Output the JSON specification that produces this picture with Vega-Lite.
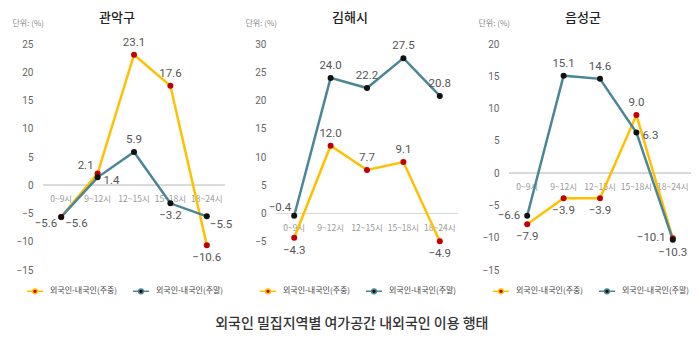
{
  "$schema": "https://vega.github.io/schema/vega-lite/v6.json",
  "background": "white",
  "padding": {"left": 12, "top": 12, "right": 0, "bottom": 0},
  "bounds": "flush",
  "spacing": 51,
  "config": {
    "font": "Noto Sans CJK KR",
    "view": {"stroke": null},
    "axis": {"labelFont": "Roboto", "titleFont": "Noto Sans CJK KR", "labelOverlap": false},
    "axisY": {"labelOverlap": false},
    "axisQuantitative": {"labelOverlap": false},
    "legend": {"labelFont": "Noto Sans CJK KR"},
    "text": {"font": "Roboto", "fontSize": 11.5, "color": "#555555"}
  },
  "title": {"text": "외국인 밀집지역별 여가공간 내외국인 이용 행태", "orient": "bottom", "anchor": "middle", "fontSize": 14, "fontWeight": 500, "color": "#333333", "offset": 20},
  "datasets": {
    "d": [
      {"region": "관악구", "time": "0~9시", "series": "외국인-내국인(주중)", "value": -5.6},
      {"region": "관악구", "time": "9~12시", "series": "외국인-내국인(주중)", "value": 2.1},
      {"region": "관악구", "time": "12~15시", "series": "외국인-내국인(주중)", "value": 23.1},
      {"region": "관악구", "time": "15~18시", "series": "외국인-내국인(주중)", "value": 17.6},
      {"region": "관악구", "time": "18~24시", "series": "외국인-내국인(주중)", "value": -10.6},
      {"region": "관악구", "time": "0~9시", "series": "외국인-내국인(주말)", "value": -5.6},
      {"region": "관악구", "time": "9~12시", "series": "외국인-내국인(주말)", "value": 1.4},
      {"region": "관악구", "time": "12~15시", "series": "외국인-내국인(주말)", "value": 5.9},
      {"region": "관악구", "time": "15~18시", "series": "외국인-내국인(주말)", "value": -3.2},
      {"region": "관악구", "time": "18~24시", "series": "외국인-내국인(주말)", "value": -5.5},
      {"region": "김해시", "time": "0~9시", "series": "외국인-내국인(주중)", "value": -4.3},
      {"region": "김해시", "time": "9~12시", "series": "외국인-내국인(주중)", "value": 12.0},
      {"region": "김해시", "time": "12~15시", "series": "외국인-내국인(주중)", "value": 7.7},
      {"region": "김해시", "time": "15~18시", "series": "외국인-내국인(주중)", "value": 9.1},
      {"region": "김해시", "time": "18~24시", "series": "외국인-내국인(주중)", "value": -4.9},
      {"region": "김해시", "time": "0~9시", "series": "외국인-내국인(주말)", "value": -0.4},
      {"region": "김해시", "time": "9~12시", "series": "외국인-내국인(주말)", "value": 24.0},
      {"region": "김해시", "time": "12~15시", "series": "외국인-내국인(주말)", "value": 22.2},
      {"region": "김해시", "time": "15~18시", "series": "외국인-내국인(주말)", "value": 27.5},
      {"region": "김해시", "time": "18~24시", "series": "외국인-내국인(주말)", "value": 20.8},
      {"region": "음성군", "time": "0~9시", "series": "외국인-내국인(주중)", "value": -7.9},
      {"region": "음성군", "time": "9~12시", "series": "외국인-내국인(주중)", "value": -3.9},
      {"region": "음성군", "time": "12~15시", "series": "외국인-내국인(주중)", "value": -3.9},
      {"region": "음성군", "time": "15~18시", "series": "외국인-내국인(주중)", "value": 9.0},
      {"region": "음성군", "time": "18~24시", "series": "외국인-내국인(주중)", "value": -10.1},
      {"region": "음성군", "time": "0~9시", "series": "외국인-내국인(주말)", "value": -6.6},
      {"region": "음성군", "time": "9~12시", "series": "외국인-내국인(주말)", "value": 15.1},
      {"region": "음성군", "time": "12~15시", "series": "외국인-내국인(주말)", "value": 14.6},
      {"region": "음성군", "time": "15~18시", "series": "외국인-내국인(주말)", "value": 6.3},
      {"region": "음성군", "time": "18~24시", "series": "외국인-내국인(주말)", "value": -10.3}
    ]
  },
  "resolve": {"legend": {"color": "independent"}, "scale": {"y": "independent"}},
  "hconcat": [
    {
      "title": {"text": "관악구", "dx": -17, "fontSize": 13, "fontWeight": 500, "color": "#222222", "offset": -6},
      "width": 182, "height": 226,
      "data": {"name": "d"},
      "transform": [
        {"filter": "datum.region == '관악구'"},
        {"window": [{"op": "row_number", "as": "rk"}], "groupby": ["time"], "sort": [{"field": "value", "order": "descending"}, {"field": "series", "order": "descending"}]},
        {"joinaggregate": [{"op": "max", "field": "value", "as": "vmax"}, {"op": "min", "field": "value", "as": "vmin"}], "groupby": ["time"]}
      ],
      "encoding": {
        "x": {"field": "time", "type": "ordinal", "sort": ["0~9시", "9~12시", "12~15시", "15~18시", "18~24시"], "scale": {"type": "point", "padding": 0.5}, "axis": null},
        "y": {"field": "value", "type": "quantitative", "scale": {"domain": [-15, 25], "nice": false}, "axis": {"values": [-15, -10, -5, 0, 5, 10, 15, 20, 25], "labelOverlap": false, "domain": false, "ticks": false, "grid": false, "labelFontSize": 10, "labelColor": "#666666", "labelPadding": 10, "title": "단위: (%)", "titleAngle": 0, "titleAlign": "left", "titleBaseline": "middle", "titleX": -31, "titleY": -21, "titleFontSize": 8, "titleFontWeight": "normal", "titleColor": "#888888"}}
      },
      "layer": [
        {"mark": {"type": "rule", "color": "#d9d9d9", "strokeWidth": 1.2}, "encoding": {"y": {"datum": 0, "type": "quantitative"}, "x": null}},
        {"transform": [{"filter": "datum.series == '외국인-내국인(주중)'"}], "mark": {"type": "text", "dy": 14, "fontSize": 8.5, "color": "#999999", "font": "Noto Sans CJK KR"}, "encoding": {"y": {"datum": 0, "type": "quantitative"}, "text": {"field": "time"}}},
        {"mark": {"type": "line", "strokeWidth": 2.5}, "encoding": {
          "color": {"field": "series", "type": "nominal", "scale": {"domain": ["외국인-내국인(주중)", "외국인-내국인(주말)"], "range": ["#FFC000", "#4A8696"]},
            "legend": {"orient": "none", "legendX": -17, "legendY": 238, "direction": "horizontal", "title": null, "symbolType": "M-1,0L-0.3,0M0.3,0L1,0M-0.3,0A0.3,0.3,0,1,0,0.3,0A0.3,0.3,0,1,0,-0.3,0Z", "symbolSize": 256, "symbolStrokeWidth": 1.5, "labelFontSize": 8, "labelColor": "#444444", "labelOffset": 6, "columnPadding": 12,
              "encode": {"symbols": {"update": {"fill": {"signal": "datum.value == '외국인-내국인(주중)' ? '#C00000' : '#111111'"}, "opacity": {"value": 1}}}}}}
        }},
        {"mark": {"type": "point", "filled": true, "size": 36, "opacity": 1, "strokeWidth": 0}, "encoding": {
          "fill": {"field": "series", "type": "nominal", "scale": {"domain": ["외국인-내국인(주중)", "외국인-내국인(주말)"], "range": ["#C00000", "#111111"]}, "legend": null}
        }},
        {"mark": {"type": "text",
          "dx": {"expr": "(datum.vmax - datum.vmin >= 3) ? (datum.rk == 1 ? (datum.value < -2 ? 3 : datum.value < 0 ? -3 : 0) : 0) : (datum.vmax == datum.vmin) ? (datum.rk == 1 ? -4 : 4) : (datum.rk == 1 ? (datum.value >= 5 ? 0 : datum.value >= 0 ? -4 : -7) : (datum.value >= 0 ? 6 : 0))"},
          "dy": {"expr": "(datum.vmax - datum.vmin >= 3) ? (datum.rk == 1 ? (datum.value < -2 ? 9 : datum.value < 0 ? -8 : -12) : (datum.value > 5 ? -12 : 13)) : (datum.vmax == datum.vmin) ? 7 : (datum.rk == 1 ? (datum.value >= 5 ? -12 : datum.value >= 0 ? -7 : 0) : (datum.value >= 0 ? 4 : 13))"},
          "align": {"expr": "(datum.vmax - datum.vmin >= 3) ? (datum.rk == 1 ? (datum.value < -2 ? 'left' : datum.value < 0 ? 'right' : 'center') : 'center') : (datum.vmax == datum.vmin) ? (datum.rk == 1 ? 'right' : 'left') : (datum.rk == 1 ? (datum.value >= 5 ? 'center' : 'right') : (datum.value >= 0 ? 'left' : 'center'))"}},
          "encoding": {"text": {"field": "value", "format": ".1f"}}}
      ]
    },
    {
      "title": {"text": "김해시", "dx": -17, "fontSize": 13, "fontWeight": 500, "color": "#222222", "offset": -6},
      "width": 182, "height": 226,
      "data": {"name": "d"},
      "transform": [
        {"filter": "datum.region == '김해시'"},
        {"window": [{"op": "row_number", "as": "rk"}], "groupby": ["time"], "sort": [{"field": "value", "order": "descending"}, {"field": "series", "order": "descending"}]},
        {"joinaggregate": [{"op": "max", "field": "value", "as": "vmax"}, {"op": "min", "field": "value", "as": "vmin"}], "groupby": ["time"]}
      ],
      "encoding": {
        "x": {"field": "time", "type": "ordinal", "sort": ["0~9시", "9~12시", "12~15시", "15~18시", "18~24시"], "scale": {"type": "point", "padding": 0.5}, "axis": null},
        "y": {"field": "value", "type": "quantitative", "scale": {"domain": [-10, 30], "nice": false}, "axis": {"values": [-5, 0, 5, 10, 15, 20, 25, 30], "labelOverlap": false, "domain": false, "ticks": false, "grid": false, "labelFontSize": 10, "labelColor": "#666666", "labelPadding": 10, "title": "단위: (%)", "titleAngle": 0, "titleAlign": "left", "titleBaseline": "middle", "titleX": -31, "titleY": -21, "titleFontSize": 8, "titleFontWeight": "normal", "titleColor": "#888888"}}
      },
      "layer": [
        {"mark": {"type": "rule", "color": "#d9d9d9", "strokeWidth": 1.2}, "encoding": {"y": {"datum": 0, "type": "quantitative"}, "x": null}},
        {"transform": [{"filter": "datum.series == '외국인-내국인(주중)'"}], "mark": {"type": "text", "dy": 14, "fontSize": 8.5, "color": "#999999", "font": "Noto Sans CJK KR"}, "encoding": {"y": {"datum": 0, "type": "quantitative"}, "text": {"field": "time"}}},
        {"mark": {"type": "line", "strokeWidth": 2.5}, "encoding": {
          "color": {"field": "series", "type": "nominal", "scale": {"domain": ["외국인-내국인(주중)", "외국인-내국인(주말)"], "range": ["#FFC000", "#4A8696"]},
            "legend": {"orient": "none", "legendX": -17, "legendY": 238, "direction": "horizontal", "title": null, "symbolType": "M-1,0L-0.3,0M0.3,0L1,0M-0.3,0A0.3,0.3,0,1,0,0.3,0A0.3,0.3,0,1,0,-0.3,0Z", "symbolSize": 256, "symbolStrokeWidth": 1.5, "labelFontSize": 8, "labelColor": "#444444", "labelOffset": 6, "columnPadding": 12,
              "encode": {"symbols": {"update": {"fill": {"signal": "datum.value == '외국인-내국인(주중)' ? '#C00000' : '#111111'"}, "opacity": {"value": 1}}}}}}
        }},
        {"mark": {"type": "point", "filled": true, "size": 36, "opacity": 1, "strokeWidth": 0}, "encoding": {
          "fill": {"field": "series", "type": "nominal", "scale": {"domain": ["외국인-내국인(주중)", "외국인-내국인(주말)"], "range": ["#C00000", "#111111"]}, "legend": null}
        }},
        {"mark": {"type": "text",
          "dx": {"expr": "(datum.vmax - datum.vmin >= 3) ? (datum.rk == 1 ? (datum.value < -2 ? 3 : datum.value < 0 ? -3 : 0) : 0) : (datum.vmax == datum.vmin) ? (datum.rk == 1 ? -4 : 4) : (datum.rk == 1 ? (datum.value >= 5 ? 0 : datum.value >= 0 ? -4 : -7) : (datum.value >= 0 ? 6 : 0))"},
          "dy": {"expr": "(datum.vmax - datum.vmin >= 3) ? (datum.rk == 1 ? (datum.value < -2 ? 9 : datum.value < 0 ? -8 : -12) : (datum.value > 5 ? -12 : 13)) : (datum.vmax == datum.vmin) ? 7 : (datum.rk == 1 ? (datum.value >= 5 ? -12 : datum.value >= 0 ? -7 : 0) : (datum.value >= 0 ? 4 : 13))"},
          "align": {"expr": "(datum.vmax - datum.vmin >= 3) ? (datum.rk == 1 ? (datum.value < -2 ? 'left' : datum.value < 0 ? 'right' : 'center') : 'center') : (datum.vmax == datum.vmin) ? (datum.rk == 1 ? 'right' : 'left') : (datum.rk == 1 ? (datum.value >= 5 ? 'center' : 'right') : (datum.value >= 0 ? 'left' : 'center'))"}},
          "encoding": {"text": {"field": "value", "format": ".1f"}}}
      ]
    },
    {
      "title": {"text": "음성군", "dx": -17, "fontSize": 13, "fontWeight": 500, "color": "#222222", "offset": -6},
      "width": 182, "height": 226,
      "data": {"name": "d"},
      "transform": [
        {"filter": "datum.region == '음성군'"},
        {"window": [{"op": "row_number", "as": "rk"}], "groupby": ["time"], "sort": [{"field": "value", "order": "descending"}, {"field": "series", "order": "descending"}]},
        {"joinaggregate": [{"op": "max", "field": "value", "as": "vmax"}, {"op": "min", "field": "value", "as": "vmin"}], "groupby": ["time"]}
      ],
      "encoding": {
        "x": {"field": "time", "type": "ordinal", "sort": ["0~9시", "9~12시", "12~15시", "15~18시", "18~24시"], "scale": {"type": "point", "padding": 0.5}, "axis": null},
        "y": {"field": "value", "type": "quantitative", "scale": {"domain": [-15, 20], "nice": false}, "axis": {"values": [-15, -10, -5, 0, 5, 10, 15, 20], "labelOverlap": false, "domain": false, "ticks": false, "grid": false, "labelFontSize": 10, "labelColor": "#666666", "labelPadding": 10, "title": "단위: (%)", "titleAngle": 0, "titleAlign": "left", "titleBaseline": "middle", "titleX": -31, "titleY": -21, "titleFontSize": 8, "titleFontWeight": "normal", "titleColor": "#888888"}}
      },
      "layer": [
        {"mark": {"type": "rule", "color": "#d9d9d9", "strokeWidth": 1.2}, "encoding": {"y": {"datum": 0, "type": "quantitative"}, "x": null}},
        {"transform": [{"filter": "datum.series == '외국인-내국인(주중)'"}], "mark": {"type": "text", "dy": 14, "fontSize": 8.5, "color": "#999999", "font": "Noto Sans CJK KR"}, "encoding": {"y": {"datum": 0, "type": "quantitative"}, "text": {"field": "time"}}},
        {"mark": {"type": "line", "strokeWidth": 2.5}, "encoding": {
          "color": {"field": "series", "type": "nominal", "scale": {"domain": ["외국인-내국인(주중)", "외국인-내국인(주말)"], "range": ["#FFC000", "#4A8696"]},
            "legend": {"orient": "none", "legendX": -17, "legendY": 238, "direction": "horizontal", "title": null, "symbolType": "M-1,0L-0.3,0M0.3,0L1,0M-0.3,0A0.3,0.3,0,1,0,0.3,0A0.3,0.3,0,1,0,-0.3,0Z", "symbolSize": 256, "symbolStrokeWidth": 1.5, "labelFontSize": 8, "labelColor": "#444444", "labelOffset": 6, "columnPadding": 12,
              "encode": {"symbols": {"update": {"fill": {"signal": "datum.value == '외국인-내국인(주중)' ? '#C00000' : '#111111'"}, "opacity": {"value": 1}}}}}}
        }},
        {"mark": {"type": "point", "filled": true, "size": 36, "opacity": 1, "strokeWidth": 0}, "encoding": {
          "fill": {"field": "series", "type": "nominal", "scale": {"domain": ["외국인-내국인(주중)", "외국인-내국인(주말)"], "range": ["#C00000", "#111111"]}, "legend": null}
        }},
        {"mark": {"type": "text",
          "dx": {"expr": "(datum.vmax - datum.vmin >= 3) ? (datum.rk == 1 ? (datum.value < -2 ? 3 : datum.value < 0 ? -3 : 0) : 0) : (datum.vmax == datum.vmin) ? (datum.rk == 1 ? -4 : 4) : (datum.rk == 1 ? (datum.value >= 5 ? 0 : datum.value >= 0 ? -4 : -7) : (datum.value >= 0 ? 6 : 0))"},
          "dy": {"expr": "(datum.vmax - datum.vmin >= 3) ? (datum.rk == 1 ? (datum.value < -2 ? 9 : datum.value < 0 ? -8 : -12) : (datum.value > 5 ? -12 : 13)) : (datum.vmax == datum.vmin) ? 7 : (datum.rk == 1 ? (datum.value >= 5 ? -12 : datum.value >= 0 ? -7 : 0) : (datum.value >= 0 ? 4 : 13))"},
          "align": {"expr": "(datum.vmax - datum.vmin >= 3) ? (datum.rk == 1 ? (datum.value < -2 ? 'left' : datum.value < 0 ? 'right' : 'center') : 'center') : (datum.vmax == datum.vmin) ? (datum.rk == 1 ? 'right' : 'left') : (datum.rk == 1 ? (datum.value >= 5 ? 'center' : 'right') : (datum.value >= 0 ? 'left' : 'center'))"}},
          "encoding": {"text": {"field": "value", "format": ".1f"}}}
      ]
    }
  ]
}
